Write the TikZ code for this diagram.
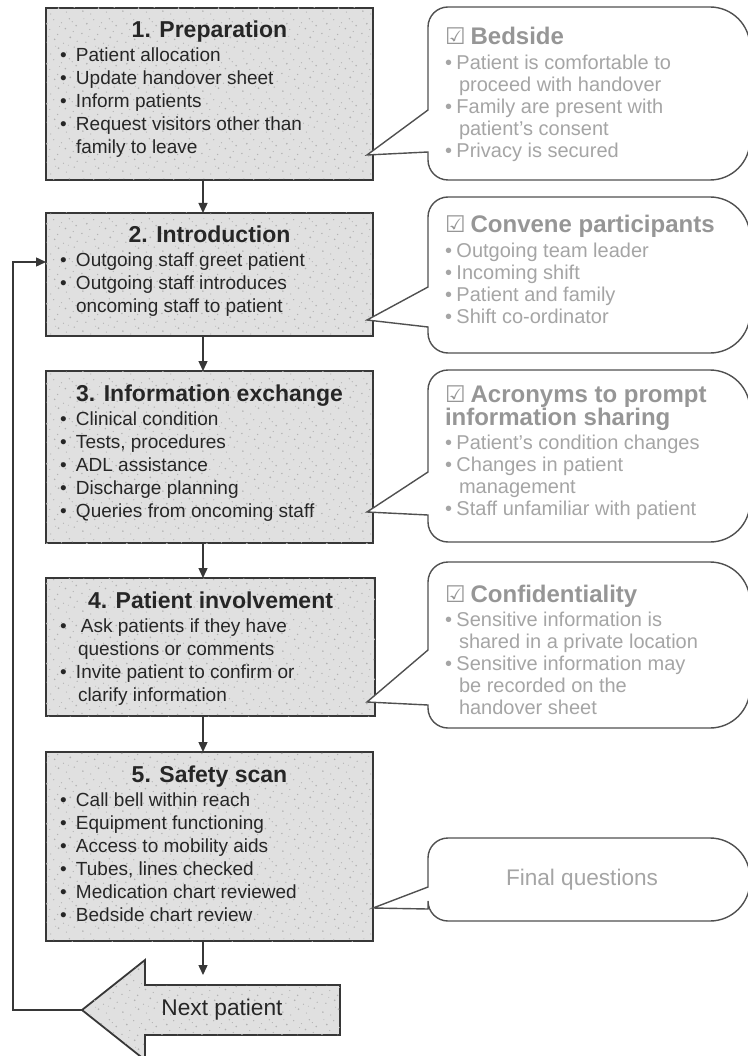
\documentclass[tikz,border=0pt]{standalone}
\usepackage{fontspec}
\setmainfont{Liberation Sans}
\newfontfamily\symfont{DejaVu Sans}
\usetikzlibrary{arrows.meta,patterns}

\definecolor{boxfill}{RGB}{224,224,224}
\definecolor{speck}{RGB}{178,178,178}
\definecolor{boxline}{RGB}{55,55,55}
\definecolor{calline}{RGB}{80,80,80}
\definecolor{caltitle}{RGB}{150,150,150}
\definecolor{caltext}{RGB}{165,165,165}

% stone-like speckle laid over the grey fills
\pgfdeclarepatternformonly{speckle}{\pgfqpoint{0pt}{0pt}}{\pgfqpoint{40pt}{40pt}}{\pgfqpoint{40pt}{40pt}}{%
  \foreach \px/\py/\pr in {3/5/0.9, 11/2/0.7, 19/8/1.0, 27/4/0.6, 35/9/0.8, 6/14/0.7,
      15/17/0.9, 24/13/0.6, 31/19/1.0, 38/15/0.7, 2/23/0.8, 10/27/0.6, 18/22/0.8,
      26/28/0.9, 34/25/0.6, 7/33/1.0, 14/37/0.7, 22/34/0.6, 30/38/0.8, 37/31/0.9,
      20/30/0.5, 29/11/0.5, 9/20/0.5, 33/35/0.6, 16/10/0.5, 4/38/0.5}{%
    \pgfpathcircle{\pgfqpoint{\px pt}{\py pt}}{\pr pt}}%
  \pgfusepath{fill}}

% line break that keeps the hanging indent of an item
\newcommand\nl{\hfil\break}
% bullet item inside a step box
\newcommand\bx[1]{\par\hangindent=16pt\hangafter=1\noindent\makebox[16pt][l]{\textbullet}#1\par}
% bullet item inside a callout
\newcommand\cx[1]{\par\hangindent=14pt\hangafter=1\noindent\makebox[11.5pt][l]{\textbullet}#1\par}
% check-box mark before a callout title
\newcommand\chk{{\symfont\mdseries\fontsize{23}{23}\selectfont ☑}\hspace{5pt}}

% step box body: width, height, title, items
\newcommand\stepcontent[4]{\parbox[c][#2][t]{#1}{%
  \centering\fontsize{23}{23}\selectfont\bfseries\rule{0pt}{30pt}#3\par
  \vspace{1pt}%
  \raggedright\leftskip=14pt\mdseries\fontsize{19}{23}\selectfont #4}}

% callout body: first baseline offset, title, items
\newcommand\calcontent[3]{\parbox[t]{300pt}{%
  \raggedright\fontsize{24}{23}\selectfont\bfseries\rule{0pt}{#1}{\color{caltitle}\chk #2}\par
  \vspace{2.5pt}%
  \mdseries\fontsize{20}{22}\selectfont #3}}

% callout outline: top, bottom, pointer start, tip x, tip y, pointer end
\newcommand\calloutshape[6]{%
  \draw[callout] (428,#3) [rounded corners=20pt] -- (428,#1) [rounded corners=40pt]
    -- (750,#1) -- (750,#2) [rounded corners=20pt] -- (428,#2) [sharp corners]
    -- (428,#6) -- (#4,#5) -- cycle;}

\begin{document}
\begin{tikzpicture}[x=1pt,y=-1pt,
  stepbox/.style={draw=boxline, line width=1.8pt, fill=boxfill,
    postaction={pattern=speckle, pattern color=speck}, inner sep=0pt,
    outer sep=0pt, anchor=north west, text=black!85},
  bigarrow/.style={draw=boxline, line width=1.8pt, fill=boxfill,
    postaction={pattern=speckle, pattern color=speck}},
  flow/.style={draw=boxline, line width=1.4pt, -{Triangle[length=10pt,width=9pt]}},
  callout/.style={draw=calline, line width=1.4pt, fill=white},
  caltxt/.style={inner sep=0pt, outer sep=0pt, anchor=north west, text=caltext},
]
\useasboundingbox (0,0) rectangle (747,1056);
\fill[white] (0,0) rectangle (747,1056);

% the five steps
\node[stepbox] (b1) at (46,8) {\stepcontent{327pt}{172pt}{1. Preparation}{%
  \bx{Patient allocation}\bx{Update handover sheet}\bx{Inform patients}%
  \bx{Request visitors other than\nl family to leave}}};
\node[stepbox] (b2) at (46,213) {\stepcontent{327pt}{123pt}{2. Introduction}{%
  \bx{Outgoing staff greet patient}\bx{Outgoing staff introduces\nl oncoming staff to patient}}};
\node[stepbox] (b3) at (46,371) {\stepcontent{327pt}{172pt}{3. Information exchange}{%
  \bx{Clinical condition}\bx{Tests, procedures}\bx{ADL assistance}%
  \bx{Discharge planning}\bx{Queries from oncoming staff}}};
\node[stepbox] (b4) at (46,578) {\stepcontent{329pt}{138pt}{4. Patient involvement}{%
  \bx{\hspace{5pt}Ask patients if they have\nl\hspace*{2pt}questions or comments}%
  \bx{Invite patient to confirm or\nl\hspace*{2pt}clarify information}}};
\node[stepbox] (b5) at (46,752) {\stepcontent{327pt}{189pt}{5. Safety scan}{%
  \bx{Call bell within reach}\bx{Equipment functioning}\bx{Access to mobility aids}%
  \bx{Tubes, lines checked}\bx{Medication chart reviewed}\bx{Bedside chart review}}};

% next patient arrow
\coordinate (ntip) at (82,1010);
\draw[bigarrow] (ntip) -- (145,960) -- (145,985) -- (340,985) -- (340,1035)
  -- (145,1035) -- (145,1060) -- cycle;
\node[text=black!85] (nextlbl) at (222,1010) {\fontsize{22.7}{24}\selectfont Next patient};

% flow between steps
\coordinate (ax) at (203,0);
\coordinate (nexttop) at (203,975);
\coordinate (loop) at (13,262);
\draw[flow] (b1.south -| ax) -- (b2.north -| ax);
\draw[flow] (b2.south -| ax) -- (b3.north -| ax);
\draw[flow] (b3.south -| ax) -- (b4.north -| ax);
\draw[flow] (b4.south -| ax) -- (b5.north -| ax);
\draw[flow] (b5.south -| ax) -- (nexttop);
\draw[flow] (ntip) -| (loop) -- (loop -| b2.west);

% callouts
\calloutshape{7}{180}{110}{367}{155}{152}
\calloutshape{197}{353}{287}{367}{320}{327}
\calloutshape{370}{542}{472}{367}{512}{515}
\calloutshape{562}{728}{650}{367}{702}{705}
\calloutshape{838}{921}{887}{373}{908}{909}

\node[caltxt] (c1t) at (445,7) {\calcontent{38pt}{Bedside}{%
  \cx{Patient is comfortable to\nl proceed with handover}%
  \cx{Family are present with\nl patient’s consent}\cx{Privacy is secured}}};
\node[caltxt] (c2t) at (445,197) {\calcontent{36pt}{Convene participants}{%
  \cx{Outgoing team leader}\cx{Incoming shift}\cx{Patient and family}\cx{Shift co-ordinator}}};
\node[caltxt] (c3t) at (445,370) {\calcontent{32pt}{Acronyms to prompt\\information sharing}{%
  \cx{Patient’s condition changes}\cx{Changes in patient\nl management}%
  \cx{Staff unfamiliar with patient}}};
\node[caltxt] (c4t) at (445,562) {\calcontent{40pt}{Confidentiality}{%
  \cx{Sensitive information is\nl shared in a private location}%
  \cx{Sensitive information may\nl be recorded on the\nl handover sheet}}};
\node[text=caltext] (c5t) at (582,880) {\fontsize{22.6}{24}\selectfont Final questions};
\end{tikzpicture}
\end{document}
